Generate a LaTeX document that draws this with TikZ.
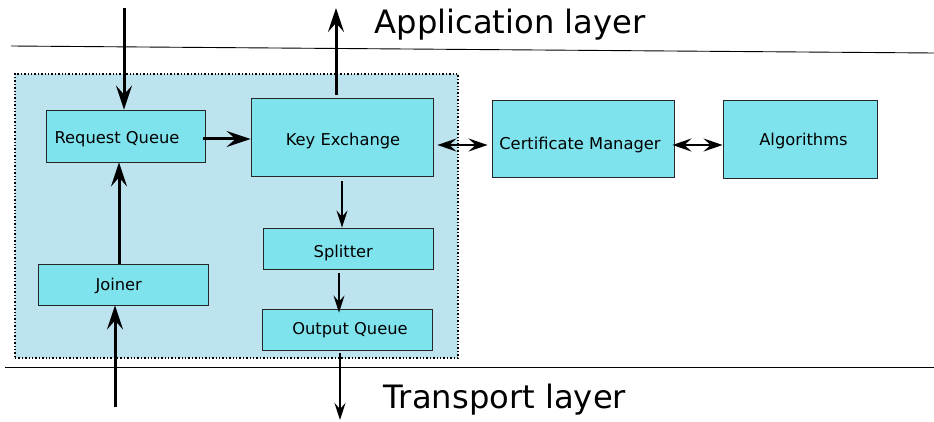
\documentclass[tikz,border=0pt]{standalone}
\usepackage{fontspec}
\setmainfont{DejaVu Sans}
\usetikzlibrary{arrows.meta}
\definecolor{boxfill}{HTML}{7FE3EE}
\definecolor{areafill}{HTML}{BDE3EF}
\begin{document}
\begin{tikzpicture}[x=1pt,y=-1pt,
  box/.style={draw=black!85,line width=0.9pt,fill=boxfill,inner sep=0pt},
  txt/.style={anchor=base,inner sep=0pt,font=\fontsize{16.3}{19}\selectfont},
  layer/.style={anchor=base,inner sep=0pt,font=\fontsize{32.2}{38}\selectfont},
  bigarrow/.style={line width=3pt,-{Stealth[length=24pt,width=16pt,inset=9pt]}},
  midarrow/.style={line width=1.7pt,-{Stealth[length=17pt,width=11pt,inset=6pt]}},
  duoarrow/.style={line width=2.3pt,{Stealth[length=19pt,width=13pt,inset=7pt]}-{Stealth[length=19pt,width=13pt,inset=7pt]}},
  sep/.style={line width=0.9pt}]
\useasboundingbox (0,0) rectangle (934,422);
% layer separators
\coordinate (t1) at (11,46); \coordinate (t2) at (934,53);
\coordinate (b1) at (5,367); \coordinate (b2) at (934,367);
\draw[sep] (t1) -- (t2);
\draw[sep] (b1) -- (b2);
% container
\node[draw,dotted,line width=1.4pt,fill=areafill,minimum width=443pt,minimum height=284pt,inner sep=0pt] (area) at (236.5,216) {};
% boxes
\node[box,minimum width=159pt,minimum height=52pt] (rq) at (125.5,136) {};
\node[box,minimum width=182pt,minimum height=78pt] (ke) at (342,137) {};
\node[box,minimum width=182pt,minimum height=77pt] (cm) at (583,138.5) {};
\node[box,minimum width=154pt,minimum height=78pt] (alg) at (800,139) {};
\node[box,minimum width=170pt,minimum height=41pt] (jn) at (123,284.5) {};
\node[box,minimum width=170pt,minimum height=41pt] (sp) at (348,248.5) {};
\node[box,minimum width=170pt,minimum height=41pt] (oq) at (347,329.5) {};
% box labels
\node[txt] (rqt) at (117,144) {Request Queue};
\node[txt] (ket) at (343,145.5) {Key Exchange};
\node[txt] (cmt) at (580,150) {Certificate Manager};
\node[txt] (algt) at (803.5,146) {Algorithms};
\node[txt] (jnt) at (118.7,290.5) {Joiner};
\node[txt] (spt) at (343.3,257.5) {Splitter};
\node[txt] (oqt) at (350,334) {Output Queue};
% layer labels
\node[layer] (app) at (510,34) {Application layer};
\node[layer] (trans) at (505,408) {Transport layer};
% free ends
\coordinate (inTop) at (124,8);
\coordinate (outTop) at (336,8);
\coordinate (inBot) at (115,407);
\coordinate (outBot) at (340,420);
% connectors
\draw[bigarrow] (inTop) -- (inTop |- rq.north);
\draw[bigarrow] ([yshift=3pt]ke.north -| outTop) -- (outTop);
\draw[bigarrow] ([xshift=-2pt,yshift=-3pt]rq.east) -- ([yshift=-3pt]rq.east -| ke.west);
\draw[bigarrow] (jn.north -| 119,0) -- (rq.south -| 119,0);
\draw[bigarrow] (inBot) -- (inBot |- jn.south);
\draw[duoarrow] ([xshift=4pt,yshift=-8pt]ke.east) -- ([xshift=-4pt,yshift=-6.5pt]cm.west);
\draw[duoarrow] ([xshift=-2pt,yshift=-6.5pt]cm.east) -- ([yshift=-6pt]alg.west);
\draw[midarrow] ([yshift=-5pt]ke.south) -- (sp.north -| ke.south);
\draw[midarrow] ([yshift=-4pt]sp.south -| 339,0) -- ([yshift=-4pt]oq.north -| 339,0);
\draw[midarrow] ([yshift=-3pt]oq.south -| outBot) -- (outBot);
\end{tikzpicture}
\end{document}
